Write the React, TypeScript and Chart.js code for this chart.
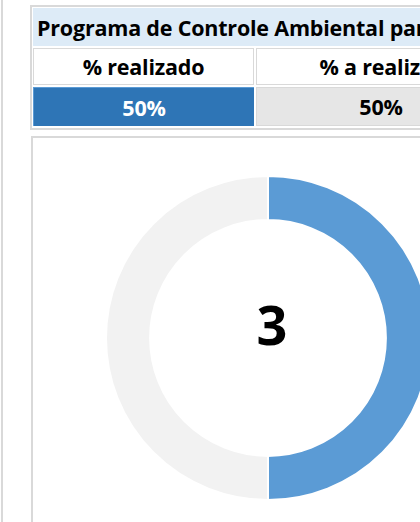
import React, { useEffect, useRef } from "react";
import { Chart, registerables } from "chart.js";

Chart.register(...registerables);

const title = "Programa de Controle Ambiental para Obras";
const columnLabels = ["% realizado", "% a realizar"];
const segmentLabels = ["Realizado", "A realizar"];
const segmentValues = [50, 50];
const percentLabels = ["50%", "50%"];
const centerValue = "3";

const FONT = "'Open Sans', 'Noto Sans', sans-serif";
const BORDER = "#d9d9d9";

export default function App() {
  const ref = useRef<HTMLCanvasElement | null>(null);

  useEffect(() => {
    if (!ref.current) return;
    const chart = new Chart(ref.current, {
      type: "doughnut",
      data: {
        labels: segmentLabels,
        datasets: [
          {
            data: segmentValues,
            backgroundColor: ["#5b9bd5", "#f2f2f2"],
            borderColor: "#ffffff",
            borderWidth: 2,
            hoverOffset: 0,
          },
        ],
      },
      options: {
        animation: false,
        responsive: false,
        maintainAspectRatio: false,
        radius: 162,
        cutout: 123,
        layout: { padding: 0 },
        plugins: {
          legend: { display: false },
          tooltip: { enabled: false },
          title: { display: false },
        },
        events: [],
      },
    });
    return () => chart.destroy();
  }, []);

  const abs = (s: React.CSSProperties): React.CSSProperties => ({
    position: "absolute",
    boxSizing: "border-box",
    ...s,
  });

  const cellText: React.CSSProperties = {
    display: "flex",
    alignItems: "center",
    justifyContent: "center",
    fontFamily: FONT,
    fontWeight: 700,
    fontSize: 21.5,
    letterSpacing: -0.2,
    whiteSpace: "nowrap",
    overflow: "hidden",
  };

  return (
    <div
      style={{
        position: "fixed",
        left: 0,
        top: 0,
        width: 420,
        height: 522,
        overflow: "hidden",
        background: "#ffffff",
      }}
    >
      {/* left edge line */}
      <div style={abs({ left: 1, top: 0, width: 2, height: 522, background: BORDER })} />

      {/* table outer border */}
      <div
        style={abs({
          left: 30,
          top: 5,
          width: 420,
          height: 125,
          border: `2px solid ${BORDER}`,
        })}
      />
      {/* header */}
      <div
        style={abs({
          left: 33,
          top: 8,
          width: 420,
          height: 38,
          background: "#ddebf7",
          ...cellText,
          justifyContent: "flex-start",
          paddingLeft: 4,
          color: "#000",
        })}
      >
        {title}
      </div>
      {/* row 2 */}
      <div
        style={abs({
          left: 33,
          top: 48,
          width: 221,
          height: 37,
          background: "#fff",
          border: `1px solid ${BORDER}`,
          ...cellText,
          color: "#000",
        })}
      >
        {columnLabels[0]}
      </div>
      <div
        style={abs({
          left: 256,
          top: 48,
          width: 250,
          height: 37,
          background: "#fff",
          border: `1px solid ${BORDER}`,
          ...cellText,
          color: "#000",
        })}
      >
        {columnLabels[1]}
      </div>
      {/* row 3 */}
      <div
        style={abs({
          left: 33,
          top: 87,
          width: 221,
          height: 39,
          background: "#2e75b6",
          borderTop: "1px solid #5b9bd5",
          borderLeft: "1px solid #5b9bd5",
          ...cellText,
          color: "#fff",
        })}
      >
        {percentLabels[0]}
      </div>
      <div
        style={abs({
          left: 256,
          top: 87,
          width: 250,
          height: 39,
          background: "#e6e6e6",
          border: `1px solid ${BORDER}`,
          ...cellText,
          color: "#000",
        })}
      >
        {percentLabels[1]}
      </div>

      {/* chart box */}
      <div
        style={abs({
          left: 31,
          top: 136,
          width: 420,
          height: 420,
          border: `2px solid ${BORDER}`,
        })}
      />
      <canvas
        ref={ref}
        width={340}
        height={340}
        style={{ position: "absolute", left: 98, top: 168, width: 340, height: 340 }}
      />
      <div
        style={abs({
          left: 222,
          top: 289,
          width: 100,
          height: 70,
          ...cellText,
          fontSize: 54,
          letterSpacing: 0,
          color: "#000",
          overflow: "visible",
        })}
      >
        {centerValue}
      </div>
    </div>
  );
}
